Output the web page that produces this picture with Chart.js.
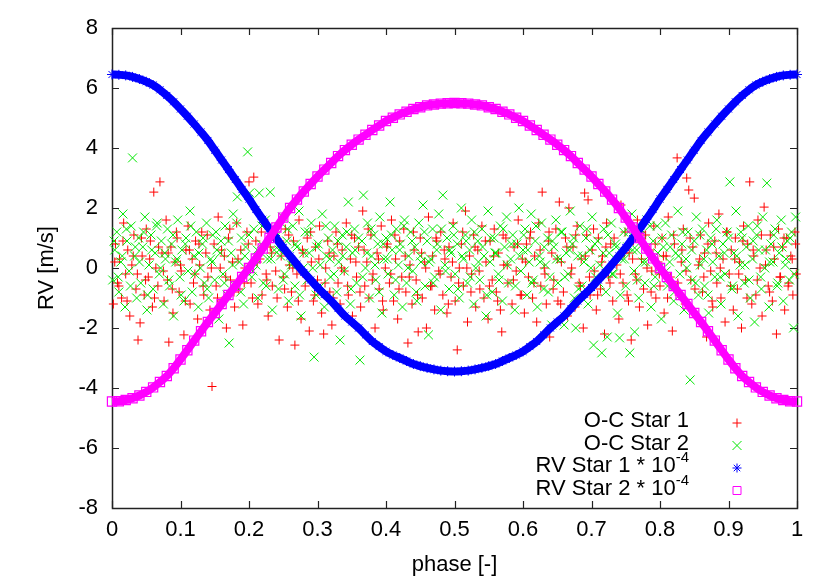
<!DOCTYPE html>
<html>
<head>
<meta charset="utf-8">
<script src="https://cdn.jsdelivr.net/npm/chart.js@4/dist/chart.umd.min.js"></script>
<style>
  html, body { margin: 0; padding: 0; background: #fff; }
  #c { display: block; }
</style>
</head>
<body>
<canvas id="c" width="830" height="581"></canvas>
<script>
// ---------------- data ----------------
const xTicks = [0, 0.1, 0.2, 0.3, 0.4, 0.5, 0.6, 0.7, 0.8, 0.9, 1];
const yTicks = [-8, -6, -4, -2, 0, 2, 4, 6, 8];

const seriesLabels = ['O-C Star 1', 'O-C Star 2', 'RV Star 1 * 10', 'RV Star 2 * 10'];
const seriesSup = ['', '', '-4', '-4'];

const rvPhase = [0.00,0.01,0.02,0.03,0.04,0.05,0.06,0.07,0.08,0.09,
0.10,0.11,0.12,0.13,0.14,0.15,0.16,0.17,0.18,0.19,
0.20,0.21,0.22,0.23,0.24,0.25,0.26,0.27,0.28,0.29,
0.30,0.31,0.32,0.33,0.34,0.35,0.36,0.37,0.38,0.39,
0.40,0.41,0.42,0.43,0.44,0.45,0.46,0.47,0.48,0.49,
0.50,0.51,0.52,0.53,0.54,0.55,0.56,0.57,0.58,0.59,
0.60,0.61,0.62,0.63,0.64,0.65,0.66,0.67,0.68,0.69,
0.70,0.71,0.72,0.73,0.74,0.75,0.76,0.77,0.78,0.79,
0.80,0.81,0.82,0.83,0.84,0.85,0.86,0.87,0.88,0.89,
0.90,0.91,0.92,0.93,0.94,0.95,0.96,0.97,0.98,0.99,1.00];

const rvStar1 = [6.45,6.44,6.42,6.37,6.30,6.21,6.10,5.94,5.75,5.54,
5.30,5.06,4.80,4.53,4.25,3.93,3.60,3.28,2.95,2.62,
2.30,1.95,1.62,1.30,0.98,0.68,0.40,0.12,-0.15,-0.40,
-0.65,-0.88,-1.10,-1.35,-1.60,-1.80,-2.00,-2.23,-2.45,-2.62,
-2.78,-2.90,-3.00,-3.10,-3.20,-3.27,-3.33,-3.38,-3.42,-3.44,
-3.45,
-3.44,-3.42,-3.38,-3.33,-3.27,-3.20,-3.10,-3.00,-2.90,-2.78,
-2.62,-2.45,-2.23,-2.00,-1.80,-1.60,-1.35,-1.10,-0.88,-0.65,
-0.40,-0.15,0.12,0.40,0.68,0.98,1.30,1.62,1.95,2.30,
2.62,2.95,3.28,3.60,3.93,4.25,4.53,4.80,5.06,5.30,
5.54,5.75,5.94,6.10,6.21,6.30,6.37,6.42,6.44,6.45];

const rvStar2 = [-4.45,-4.44,-4.40,-4.34,-4.25,-4.13,-3.98,-3.80,-3.60,-3.34,
-3.05,-2.74,-2.42,-2.11,-1.80,-1.50,-1.20,-0.90,-0.60,-0.30,
0.00,0.32,0.65,1.00,1.35,1.68,2.00,2.28,2.55,2.80,
3.05,3.28,3.50,3.73,3.93,4.11,4.28,4.44,4.60,4.75,
4.90,5.01,5.12,5.21,5.30,5.36,5.42,5.45,5.48,5.49,
5.50,
5.49,5.48,5.45,5.42,5.36,5.30,5.21,5.12,5.01,4.90,
4.75,4.60,4.44,4.28,4.11,3.93,3.73,3.50,3.28,3.05,
2.80,2.55,2.28,2.00,1.68,1.35,1.00,0.65,0.32,0.00,
-0.30,-0.60,-0.90,-1.20,-1.50,-1.80,-2.11,-2.42,-2.74,-3.05,
-3.34,-3.60,-3.80,-3.98,-4.13,-4.25,-4.34,-4.40,-4.44,-4.45];

const oc1Phase = [0.002,0.005,0.008,0.011,0.014,0.017,0.020,0.023,0.026,0.029,0.032,0.035,0.038,
0.041,0.044,0.047,0.050,0.053,0.056,0.059,0.061,0.064,0.067,0.070,0.073,0.076,0.079,
0.081,0.083,0.086,0.089,0.092,0.095,0.098,0.101,0.105,0.108,0.111,0.114,0.117,0.119,
0.122,0.125,0.128,0.131,0.134,0.137,0.140,0.143,0.146,0.149,0.152,0.155,0.158,
0.161,0.164,0.167,0.170,0.173,0.176,0.179,0.182,0.185,0.188,0.191,0.194,0.197,
0.200,0.203,0.207,0.210,0.213,0.216,0.219,0.222,0.225,0.228,0.231,0.234,0.237,
0.241,0.244,0.247,0.250,0.253,0.256,0.259,0.262,0.265,0.267,0.270,0.273,0.276,0.279,
0.282,0.285,0.288,0.291,0.294,0.297,0.300,0.303,0.306,0.309,0.312,0.315,0.318,
0.321,0.324,0.327,0.330,0.333,0.336,0.339,0.342,0.345,0.348,0.351,0.354,0.357,
0.360,0.363,0.366,0.369,0.372,0.375,0.378,0.381,0.384,0.387,0.390,0.393,0.396,0.399,
0.402,0.405,0.408,0.411,0.414,0.417,0.420,0.423,0.426,0.429,0.432,0.435,0.438,
0.441,0.444,0.447,0.450,0.453,0.456,0.459,0.462,0.465,0.468,0.471,0.474,0.477,
0.480,0.483,0.486,0.489,0.492,0.495,0.498,0.501,0.504,0.507,0.510,0.513,0.516,0.519,
0.522,0.525,0.528,0.531,0.534,0.537,0.540,0.543,0.546,0.549,0.552,0.555,0.558,
0.561,0.564,0.567,0.569,0.572,0.575,0.578,0.581,0.584,0.587,0.590,0.593,0.596,0.599,
0.602,0.605,0.608,0.611,0.614,0.617,0.620,0.623,0.626,0.628,0.631,0.634,0.637,0.639,
0.642,0.645,0.648,0.651,0.653,0.656,0.659,0.662,0.665,0.667,0.670,0.673,0.676,0.679,
0.682,0.685,0.688,0.690,0.693,0.695,0.698,0.701,0.704,0.707,0.710,0.713,0.716,0.719,
0.722,0.725,0.728,0.731,0.734,0.737,0.740,0.743,0.746,0.749,0.752,0.755,0.758,
0.761,0.764,0.767,0.770,0.773,0.776,0.779,0.782,0.785,0.788,0.791,0.794,0.797,
0.800,0.803,0.806,0.809,0.812,0.815,0.818,0.821,0.825,0.828,0.831,0.834,0.837,0.839,
0.842,0.845,0.848,0.850,0.853,0.856,0.859,0.862,0.865,0.868,0.871,0.874,0.877,
0.880,0.883,0.886,0.889,0.892,0.895,0.898,0.901,0.904,0.907,0.910,0.913,0.916,
0.919,0.922,0.925,0.928,0.931,0.934,0.937,0.940,0.943,0.946,0.949,0.952,0.955,
0.958,0.961,0.964,0.967,0.970,0.973,0.976,0.979,0.982,0.985,0.988,0.991,0.994,0.997,0.999,
0.004,0.010,0.016,0.022,0.031,0.037,0.043,0.049,0.055,0.062,0.068,0.075,
0.082,0.088,0.094,0.100,0.107,0.113,0.121,0.127,0.133,0.139,0.145,0.154,
0.160,0.166,0.172,0.178,0.184,0.193,0.199,0.205,0.212,0.218,0.226,0.233,
0.239,0.245,0.252,0.258,0.264,0.272,0.278,0.284,0.290,0.296,0.302,0.311,
0.317,0.323,0.329,0.335,0.344,0.350,0.356,0.362,0.368,0.374,0.380,0.389,
0.395,0.401,0.407,0.413,0.419,0.428,0.434,0.440,0.446,0.452,0.458,0.467,
0.473,0.479,0.485,0.491,0.497,0.506,0.512,0.518,0.524,0.530,0.536,0.545,
0.551,0.557,0.563,0.571,0.577,0.586,0.592,0.598,0.604,0.610,0.616,0.625,
0.632,0.638,0.644,0.650,0.655,0.664,0.671,0.677,0.684,0.691,0.697,0.703,
0.709,0.715,0.721,0.727,0.733,0.742,0.748,0.754,0.760,0.766,0.772,0.781,
0.787,0.793,0.799,0.805,0.811,0.820,0.826,0.832,0.838,0.844,0.851,0.858,
0.864,0.870,0.876,0.882,0.888,0.897,0.903,0.909,0.915,0.921,0.927,0.936,
0.942,0.948,0.954,0.960,0.966,0.975,0.981,0.987,0.993,0.998];

const oc1Values = [-1.2,0.8,-0.5,0.3,-1.0,1.5,-0.2,0.6,-1.6,0.1,1.1,-0.7,-2.4,
-1.83,0.4,-0.9,1.3,-0.3,0.9,-1.3,2.53,0.0,-0.6,2.87,0.5,-1.1,1.6,
-0.4,-2.47,0.7,-1.5,0.2,1.0,-0.8,-0.1,-2.23,0.6,1.4,-1.2,0.3,-0.5,
0.9,-1.7,0.1,1.2,-0.9,0.5,-0.3,-1.4,-3.95,0.8,-0.6,1.7,0.0,
-1.1,0.4,-2.0,1.0,-0.4,0.2,-1.3,1.5,-0.7,0.6,-1.9,0.0,1.2,
2.87,-0.5,3.03,0.9,-1.2,0.3,-0.9,1.6,-0.2,-1.6,0.7,-0.6,1.1,
-1.0,-2.4,0.4,-0.3,1.3,-1.3,0.1,-0.8,0.9,-2.57,-0.2,1.6,-1.7,0.5,
-0.6,1.0,-2.1,0.2,-1.1,0.7,-0.4,1.4,-1.5,-2.2,0.0,0.9,-0.8,
-1.9,0.4,1.2,-0.5,-1.2,0.6,-0.1,1.5,-0.9,0.3,-1.6,1.0,-0.3,
0.7,-1.3,1.9,-0.6,0.2,-1.0,1.1,-0.2,-2.0,0.5,-0.7,1.4,-1.4,0.0,
0.8,-0.5,1.6,-1.1,0.3,-1.7,0.9,-0.3,1.3,-0.8,-2.5,0.1,-1.2,
0.6,-0.4,-2.13,1.0,-1.0,0.2,-2.0,1.7,-0.6,0.4,-1.4,0.9,-0.1,
1.2,-0.9,0.3,-1.5,0.7,-0.3,1.5,-1.1,-2.73,0.0,0.8,-0.6,1.9,-1.8,
0.4,-0.2,1.1,-1.3,0.6,-0.7,1.4,-1.0,0.2,-1.7,0.9,-0.4,1.3,
-0.8,0.5,-1.4,-2.13,0.1,1.0,-0.5,2.53,-1.2,0.7,-0.1,1.6,-0.9,0.3,
-1.5,0.8,-0.3,1.2,-1.0,0.4,-1.8,1.5,-0.6,2.53,0.0,-1.2,0.9,-2.3,
0.5,-0.4,1.3,-1.1,2.2,0.2,-0.8,1.0,-1.6,2.0,-0.2,0.7,-1.3,1.4,
-0.5,0.3,-2.0,2.5,1.1,2.27,-0.9,0.6,-0.1,-1.4,1.0,-0.7,0.4,-2.2,
1.5,-0.3,0.8,-1.1,2.2,0.1,-1.7,2.1,-0.5,1.2,-0.9,0.5,-2.4,
0.9,-0.2,1.6,-1.3,0.3,-0.7,1.1,-1.9,0.6,-0.1,1.4,-1.0,0.2,
-0.6,1.0,-1.5,0.4,1.7,-0.3,-2.1,0.8,3.67,-0.9,0.2,1.3,-1.2,3.0,
2.6,-0.4,0.7,2.33,-1.6,0.1,1.1,-0.8,0.5,-2.3,1.5,-0.1,-1.3,
0.9,-0.5,1.8,-1.0,0.3,-1.8,1.2,-0.2,0.6,-1.4,1.0,-0.7,0.2,
-2.0,1.4,-0.4,0.8,2.87,-1.2,0.4,-0.9,1.6,0.0,-1.6,2.03,0.6,
-0.6,1.1,-1.1,0.3,-2.2,1.3,-0.3,0.7,-1.4,1.0,-0.5,0.4,-0.9,1.2,-0.2,
0.2,-0.6,0.9,-1.1,0.4,-0.2,1.0,-0.4,0.3,-1.0,0.7,-0.1,
0.5,-0.7,1.2,0.1,-1.1,0.6,-0.2,0.8,-0.6,1.1,0.0,-1.0,
0.6,-0.3,1.3,-0.8,0.3,-0.5,0.8,-1.0,0.2,1.2,-0.4,0.5,
-0.1,0.9,-0.7,1.1,0.0,-1.1,0.6,-0.3,1.2,-0.9,0.3,-0.5,
0.5,-1.0,0.8,0.0,-0.6,1.1,0.2,-0.8,0.6,1.3,-0.4,0.3,
-1.1,0.7,-0.2,1.1,-0.7,0.4,-0.3,1.2,-0.9,0.5,0.0,-0.6,
1.0,-0.2,0.6,-1.2,0.2,-0.5,1.2,0.0,-0.8,0.7,-0.1,0.9,
-0.6,0.4,-1.1,1.1,0.1,-0.4,0.8,-0.9,0.2,1.0,-0.5,0.6,
-0.2,1.2,-0.7,0.3,-1.2,0.7,0.0,1.1,-0.6,0.4,-0.3,1.3,
-0.9,0.2,0.7,-0.5,1.0,-0.2,0.5,-1.1,0.3,-0.4,1.2,0.0,
-0.8,0.8,-0.2,0.4,-1.0,1.1,-0.5,0.6,-0.1,1.0,-0.7,0.3,
-0.3,0.8,-1.1,0.5,0.0,1.2,-0.6,0.3,-0.2,0.9,-1.0,0.6,
-0.4,1.1,0.1,-0.8,0.7,-0.3,1.0,-0.6,0.3,0.8];

const oc2Phase = [0.001,0.004,0.007,0.010,0.013,0.016,0.019,0.022,0.025,0.028,0.030,0.033,0.036,0.039,
0.042,0.045,0.048,0.051,0.054,0.057,0.060,0.063,0.066,0.069,0.072,0.075,0.078,
0.081,0.084,0.087,0.090,0.093,0.096,0.099,0.102,0.105,0.108,0.111,0.114,0.117,
0.120,0.123,0.126,0.129,0.132,0.135,0.138,0.141,0.144,0.147,0.150,0.153,0.156,
0.159,0.162,0.165,0.168,0.171,0.174,0.177,0.180,0.183,0.186,0.189,0.192,0.195,0.198,
0.201,0.204,0.207,0.210,0.213,0.215,0.218,0.221,0.224,0.227,0.231,0.234,0.237,
0.240,0.243,0.246,0.249,0.252,0.255,0.258,0.261,0.264,0.267,0.270,0.273,0.276,0.279,
0.282,0.285,0.288,0.291,0.295,0.298,0.301,0.304,0.307,0.310,0.313,0.316,0.319,
0.322,0.325,0.328,0.331,0.333,0.336,0.339,0.342,0.345,0.348,0.351,0.354,0.357,
0.362,0.365,0.367,0.370,0.373,0.376,0.379,0.382,0.385,0.388,0.391,0.394,0.397,
0.400,0.403,0.406,0.409,0.412,0.415,0.418,0.421,0.424,0.427,0.430,0.433,0.436,0.439,
0.442,0.445,0.448,0.451,0.454,0.457,0.460,0.462,0.465,0.468,0.471,0.474,0.477,
0.480,0.483,0.486,0.489,0.492,0.495,0.498,0.501,0.504,0.507,0.510,0.513,0.516,0.519,
0.522,0.525,0.528,0.531,0.534,0.537,0.540,0.543,0.546,0.549,0.552,0.555,0.558,
0.561,0.564,0.567,0.570,0.573,0.576,0.579,0.582,0.585,0.588,0.591,0.594,0.597,
0.600,0.603,0.606,0.609,0.612,0.615,0.618,0.621,0.624,0.627,0.630,0.633,0.636,0.639,
0.642,0.645,0.648,0.651,0.654,0.657,0.660,0.663,0.666,0.669,0.672,0.675,0.677,
0.680,0.683,0.686,0.689,0.692,0.695,0.698,0.701,0.703,0.706,0.709,0.712,0.715,0.718,
0.721,0.723,0.726,0.729,0.732,0.735,0.738,0.741,0.744,0.747,0.750,0.753,0.756,0.759,
0.762,0.763,0.766,0.769,0.772,0.775,0.778,0.781,0.784,0.787,0.790,0.793,0.796,0.799,
0.802,0.805,0.808,0.811,0.814,0.817,0.820,0.823,0.826,0.829,0.832,0.835,0.838,
0.841,0.844,0.847,0.850,0.853,0.856,0.859,0.862,0.865,0.868,0.871,0.874,0.877,
0.880,0.883,0.886,0.889,0.892,0.895,0.898,0.902,0.905,0.908,0.911,0.914,0.917,
0.920,0.923,0.926,0.929,0.932,0.935,0.938,0.941,0.944,0.947,0.950,0.953,0.956,
0.959,0.962,0.965,0.968,0.971,0.974,0.977,0.980,0.983,0.986,0.989,0.992,0.995,0.998,
0.003,0.009,0.015,0.021,0.027,0.034,0.040,0.046,0.052,0.058,0.065,0.071,
0.077,0.083,0.089,0.095,0.101,0.107,0.115,0.121,0.127,0.133,0.139,0.146,
0.152,0.158,0.164,0.170,0.176,0.182,0.188,0.194,0.200,0.206,0.212,0.219,
0.225,0.232,0.238,0.244,0.250,0.256,0.262,0.268,0.274,0.280,0.287,0.293,
0.299,0.305,0.312,0.318,0.324,0.330,0.337,0.343,0.349,0.355,0.360,0.366,
0.372,0.378,0.384,0.390,0.396,0.402,0.408,0.414,0.420,0.426,0.432,0.438,
0.444,0.450,0.456,0.463,0.469,0.475,0.481,0.487,0.493,0.499,0.505,0.511,
0.517,0.523,0.529,0.535,0.541,0.547,0.553,0.559,0.565,0.571,0.577,0.583,
0.589,0.595,0.601,0.607,0.613,0.619,0.625,0.631,0.637,0.643,0.649,0.655,
0.661,0.668,0.674,0.681,0.687,0.693,0.699,0.705,0.711,0.717,0.724,0.730,
0.736,0.742,0.748,0.754,0.760,0.767,0.773,0.779,0.785,0.791,0.797,0.803,
0.809,0.815,0.821,0.827,0.833,0.839,0.846,0.852,0.858,0.864,0.870,0.876,
0.882,0.888,0.894,0.900,0.906,0.912,0.918,0.924,0.930,0.936,0.942,0.948,
0.954,0.960,0.966,0.972,0.978,0.984,0.990,0.996];

const oc2Values = [-0.4,0.6,1.2,-0.8,0.2,1.8,-1.3,0.9,-0.1,1.4,3.67,0.4,-1.0,1.0,
-0.5,0.7,1.7,-1.4,0.1,1.1,-0.7,0.5,1.5,-0.2,0.9,-1.2,0.3,
1.3,-0.6,0.8,-1.6,0.2,1.6,-0.3,0.6,-1.1,1.0,-0.1,1.9,-0.8,
0.4,1.2,-1.3,0.0,0.8,-0.5,1.5,-1.0,0.3,1.1,-0.4,0.6,-1.7,
0.9,-0.2,1.4,-0.9,-2.5,0.5,1.8,-0.6,2.37,0.2,1.0,-1.2,0.7,3.87,
2.5,-0.3,1.3,0.1,-1.0,2.5,0.8,-0.5,1.6,0.3,2.53,-1.4,0.6,
1.1,-0.7,0.4,1.7,-0.2,0.9,-1.1,0.2,1.4,-0.6,0.7,1.9,-1.6,0.0,
1.2,-0.4,0.5,1.5,-2.97,-0.9,0.8,0.1,1.8,-1.3,0.4,1.0,-0.3,
0.6,1.4,-0.8,0.2,-2.4,1.1,-0.1,0.7,2.2,-1.2,0.5,1.3,-0.5,
-3.07,0.9,2.43,0.0,1.5,-1.0,0.4,1.1,-0.4,0.8,1.7,-1.5,0.3,
1.0,-0.2,2.2,0.6,-0.9,1.3,0.1,0.8,-1.3,1.6,-0.5,0.4,1.2,-0.1,
0.7,-1.1,1.5,0.2,2.1,-0.6,0.9,-2.23,0.3,1.3,-0.3,0.6,1.8,
-1.4,2.43,0.1,1.0,-0.7,0.5,1.4,-0.2,0.8,-1.0,2.0,0.3,1.1,-0.5,
0.6,1.6,-1.2,0.0,0.9,-0.4,1.3,0.4,-1.6,1.9,0.2,-0.8,1.0,
0.5,-0.2,1.4,-1.1,0.7,1.7,-0.5,0.3,1.1,-1.4,0.8,2.0,-0.1,
0.6,1.3,-0.9,0.2,1.8,-0.4,0.9,-1.3,0.4,1.5,-0.7,0.1,1.0,-0.3,
-1.9,0.7,1.6,-0.5,0.3,1.2,-1.9,0.5,-0.2,1.9,0.8,-1.0,-2.0,
0.4,1.4,-0.6,0.2,1.0,-1.2,0.6,1.7,-2.57,-0.3,0.9,0.1,-2.83,1.3,
-0.8,-2.3,0.5,1.5,-0.2,0.8,-1.5,-2.33,0.3,1.2,-0.6,0.7,-2.83,1.8,
-0.1,-2.13,0.6,-1.0,1.3,0.2,-0.5,1.6,0.4,-1.3,0.9,-0.3,1.4,0.0,
-1.7,0.7,1.5,-0.6,0.2,1.1,-1.1,0.5,1.9,-0.2,0.8,-1.4,0.3,
1.2,-3.73,-0.4,0.9,1.7,-0.9,0.1,1.3,-0.6,0.6,-1.5,1.0,0.2,
-0.3,1.6,0.4,-1.2,0.8,-0.2,1.2,2.87,-0.7,0.5,1.9,-1.6,0.1,
1.0,-0.5,0.7,1.4,-1.0,0.3,-1.8,1.1,0.6,-0.3,1.7,0.0,2.83,
-1.3,0.8,0.2,1.3,-0.6,0.5,1.6,-1.1,0.1,0.9,-0.4,1.2,-2.0,1.7,
0.9,-0.3,0.4,1.3,-0.6,0.7,0.2,1.2,-0.9,0.6,1.4,0.0,
0.5,-0.4,1.1,0.3,-0.9,0.8,1.4,-0.2,0.5,1.0,-0.7,0.2,
1.2,0.5,-0.5,0.9,0.1,1.5,-0.8,0.4,1.1,-0.1,0.6,1.4,
-0.6,0.3,1.0,0.6,-0.4,1.3,0.1,0.8,-0.9,0.5,1.2,0.0,
0.7,-0.6,1.4,0.3,-0.2,0.9,0.4,1.2,-0.7,0.6,1.0,-0.3,
0.5,1.3,0.1,-0.8,0.8,0.3,1.1,-0.4,0.6,1.4,0.0,0.9,
-0.8,0.4,1.2,0.2,-0.5,0.8,1.3,-0.1,0.6,1.1,-0.7,0.4,
0.9,-0.3,1.2,0.2,0.7,-0.9,1.0,0.5,-0.4,1.3,0.1,0.8,
-0.6,0.4,1.1,0.6,-0.5,1.4,0.2,0.7,-0.8,0.9,0.3,1.2,
-0.3,0.6,1.0,-0.7,0.4,1.3,0.0,0.8,-0.5,0.5,1.1,-0.2,
0.7,-0.9,0.3,1.2,0.6,-0.4,0.9,0.2,1.4,-0.6,0.5,1.0,
-0.1,0.7,-0.8,0.4,1.2,0.0,0.6,-0.5,1.1,0.3,-0.9,0.8,
1.3,-0.3,0.5,1.0,-0.6,0.4,1.2,0.1,-0.4,0.9,1.4,-0.7,
0.6,0.2,1.1,-0.5,0.7,0.3,1.0,-0.2];

// ---------------- colours & fonts ----------------
const RED = '#ff0000', GREEN = '#00e600', BLUE = '#0000ff', MAGENTA = '#ff00ff';
const FONT = "'Liberation Sans', Arial, Helvetica, sans-serif";
const FS = 22;

function pairs(xs, ys) {
  const n = Math.min(xs.length, ys.length);
  const out = [];
  for (let i = 0; i < n; i++) out.push({ x: xs[i], y: ys[i] });
  return out;
}

Chart.defaults.font.family = FONT;
Chart.defaults.font.size = FS;
Chart.defaults.color = '#000';

const markerStyles = [
  { color: RED, style: 'plus' },
  { color: GREEN, style: 'x' },
  { color: BLUE, style: 'star' },
  { color: MAGENTA, style: 'square' }
];

function drawMarker(ctx, kind, x, y, color) {
  ctx.save();
  ctx.strokeStyle = color;
  ctx.lineWidth = 1;
  ctx.beginPath();
  const r = 4.5;
  if (kind === 'plus' || kind === 'star') {
    ctx.moveTo(x - r, y); ctx.lineTo(x + r, y);
    ctx.moveTo(x, y - r); ctx.lineTo(x, y + r);
  }
  if (kind === 'x' || kind === 'star') {
    const d = kind === 'star' ? r * 0.72 : r;
    ctx.moveTo(x - d, y - d); ctx.lineTo(x + d, y + d);
    ctx.moveTo(x - d, y + d); ctx.lineTo(x + d, y - d);
  }
  if (kind === 'square') {
    ctx.rect(x - 4, y - 4, 8, 8);
  }
  ctx.stroke();
  ctx.restore();
}

const framePlugin = {
  id: 'gnuFrame',
  beforeDatasetsDraw(chart) {
    const { ctx, chartArea: a, scales: { x, y } } = chart;
    ctx.save();
    ctx.strokeStyle = '#222';
    ctx.lineWidth = 1.5;
    ctx.strokeRect(Math.round(a.left) + 0.5, Math.round(a.top) + 0.5,
                   Math.round(a.right - a.left), Math.round(a.bottom - a.top));
    const L = 7;
    ctx.beginPath();
    xTicks.forEach(v => {
      const px = Math.round(x.getPixelForValue(v)) + 0.5;
      ctx.moveTo(px, a.bottom); ctx.lineTo(px, a.bottom - L);
      ctx.moveTo(px, a.top); ctx.lineTo(px, a.top + L);
    });
    yTicks.forEach(v => {
      const py = Math.round(y.getPixelForValue(v)) + 0.5;
      ctx.moveTo(a.left, py); ctx.lineTo(a.left + L, py);
      ctx.moveTo(a.right, py); ctx.lineTo(a.right - L, py);
    });
    ctx.lineWidth = 1.2;
    ctx.stroke();
    ctx.restore();
  },
  afterDatasetsDraw(chart) {
    const { ctx, chartArea: a } = chart;
    const textRight = a.right - 108;
    const markX = a.right - 60;
    const top = a.bottom - 87;
    const step = 22.5;
    ctx.save();
    ctx.fillStyle = '#000';
    ctx.textAlign = 'right';
    ctx.textBaseline = 'middle';
    seriesLabels.forEach((lab, i) => {
      const yy = top + i * step;
      let xr = textRight;
      if (seriesSup[i]) {
        ctx.font = `15px ${FONT}`;
        ctx.fillText(seriesSup[i], xr, yy - 8);
        xr -= ctx.measureText(seriesSup[i]).width;
      }
      ctx.font = `${FS}px ${FONT}`;
      ctx.fillText(lab, xr, yy);
      drawMarker(ctx, markerStyles[i].style, markX, yy + 2, markerStyles[i].color);
    });
    ctx.restore();
  }
};

new Chart(document.getElementById('c').getContext('2d'), {
  type: 'scatter',
  data: {
    datasets: [
      {
        label: seriesLabels[0],
        data: pairs(oc1Phase, oc1Values),
        showLine: false,
        pointStyle: 'cross',
        pointRadius: 4.5,
        pointBorderWidth: 1,
        pointBorderColor: RED,
        pointBackgroundColor: RED,
        borderColor: RED,
        clip: false,
        order: 3
      },
      {
        label: seriesLabels[1],
        data: pairs(oc2Phase, oc2Values),
        showLine: false,
        pointStyle: 'crossRot',
        pointRadius: 6.3,
        pointBorderWidth: 1,
        pointBorderColor: GREEN,
        pointBackgroundColor: GREEN,
        borderColor: GREEN,
        clip: false,
        order: 2
      },
      {
        label: seriesLabels[2] + seriesSup[2],
        data: pairs(rvPhase, rvStar1),
        showLine: true,
        borderColor: BLUE,
        borderWidth: 8,
        cubicInterpolationMode: 'monotone',
        pointStyle: 'star',
        pointRadius: 5,
        pointBorderWidth: 1,
        pointBorderColor: BLUE,
        pointBackgroundColor: BLUE,
        clip: false,
        order: 1
      },
      {
        label: seriesLabels[3] + seriesSup[3],
        data: pairs(rvPhase, rvStar2),
        showLine: true,
        borderColor: MAGENTA,
        borderWidth: 8,
        cubicInterpolationMode: 'monotone',
        pointStyle: 'rect',
        pointRadius: 6.5,
        pointBorderWidth: 1.2,
        pointBorderColor: MAGENTA,
        pointBackgroundColor: 'rgba(255,255,255,0)',
        clip: false,
        order: 0
      }
    ]
  },
  options: {
    responsive: false,
    animation: false,
    events: [],
    layout: { padding: { top: 28, right: 33, left: 0, bottom: 0 } },
    plugins: { legend: { display: false }, tooltip: { enabled: false } },
    scales: {
      x: {
        type: 'linear',
        min: 0, max: 1,
        afterBuildTicks: s => { s.ticks = xTicks.map(v => ({ value: v })); },
        afterFit: s => { s.height = 73; },
        ticks: {
          autoSkip: false, maxRotation: 0, padding: 9, color: '#000',
          font: { size: FS, family: FONT },
          callback: v => String(Number(v.toFixed(2)))
        },
        grid: { display: false, drawTicks: false },
        border: { display: false },
        title: {
          display: true, text: 'phase [-]', color: '#000',
          font: { size: FS, family: FONT },
          padding: { top: 0, bottom: 3 }
        }
      },
      y: {
        type: 'linear',
        min: -8, max: 8,
        afterBuildTicks: s => { s.ticks = yTicks.map(v => ({ value: v })); },
        afterFit: s => { s.width = 112; },
        ticks: {
          autoSkip: false, padding: 14, color: '#000',
          font: { size: FS, family: FONT },
          callback: v => String(v)
        },
        grid: { display: false, drawTicks: false },
        border: { display: false },
        title: {
          display: true, text: 'RV [m/s]', color: '#000',
          font: { size: FS, family: FONT },
          padding: { top: 34, bottom: 0 }
        }
      }
    }
  },
  plugins: [framePlugin]
});
</script>
</body>
</html>
